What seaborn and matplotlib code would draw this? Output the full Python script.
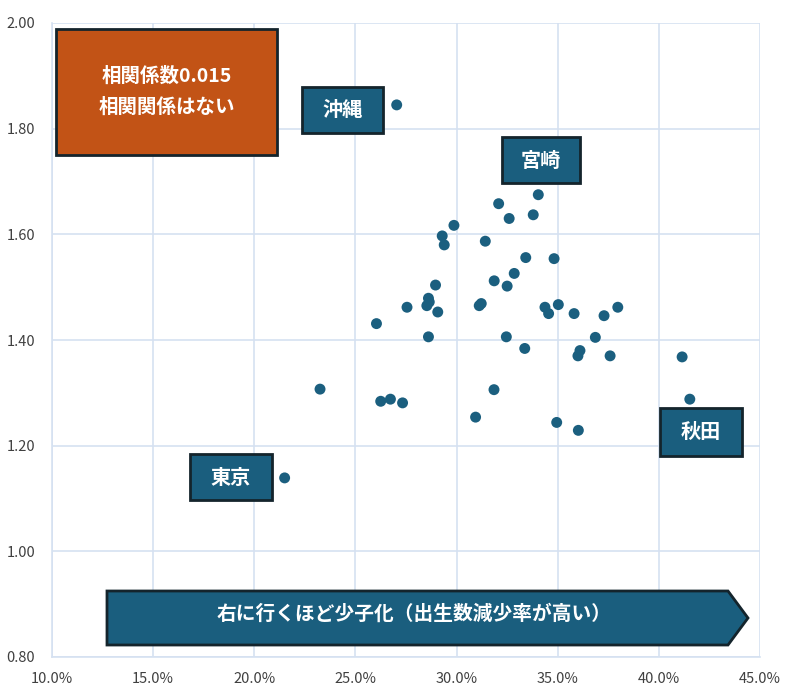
import numpy as np
import pandas as pd
import matplotlib
matplotlib.use("Agg")
import matplotlib.pyplot as plt
import seaborn as sns
from matplotlib.patches import Rectangle, Polygon
from matplotlib.ticker import FuncFormatter

# Birth decline rate (%) vs total fertility rate, by prefecture
birth_decline = [
    34.04, 32.08, 32.60, 33.79, 29.87, 29.29, 29.39, 31.42, 33.42, 34.82,
    32.85, 31.86, 32.50, 28.96, 28.61, 28.53, 28.65, 27.55, 29.07, 26.04,
    31.12, 31.22, 34.37, 34.55, 35.03, 35.81, 37.29, 37.97, 28.61, 32.46,
    33.37, 36.86, 36.10, 36.00, 37.59, 26.25, 26.73, 27.33, 31.85, 30.94,
    34.95, 36.02, 27.04, 21.50, 23.25, 41.53, 41.15,
]
fertility = [
    1.675, 1.658, 1.630, 1.637, 1.617, 1.597, 1.580, 1.587, 1.556, 1.554,
    1.526, 1.512, 1.502, 1.504, 1.479, 1.465, 1.472, 1.462, 1.453, 1.431,
    1.465, 1.469, 1.462, 1.450, 1.467, 1.450, 1.446, 1.462, 1.406, 1.406,
    1.384, 1.405, 1.380, 1.370, 1.370, 1.284, 1.288, 1.281, 1.306, 1.254,
    1.244, 1.229, 1.845, 1.139, 1.307, 1.288, 1.368,
]
x_ticks = [10, 15, 20, 25, 30, 35, 40, 45]
y_ticks = [0.80, 1.00, 1.20, 1.40, 1.60, 1.80, 2.00]
note_lines = ["相関係数0.015", "相関関係はない"]
labels = ["沖縄", "宮崎", "東京", "秋田"]
arrow_text = "右に行くほど少子化（出生数減少率が高い）"

df = pd.DataFrame({"rate": birth_decline, "tfr": fertility})

sns.set_theme(style="white")
plt.rcParams["font.family"] = ["Noto Sans CJK JP", "DejaVu Sans"]

W, H = 792, 700
fig = plt.figure(figsize=(W / 100, H / 100), dpi=100)
ax = fig.add_axes([52 / W, 1 - 657 / H, (760 - 52) / W, (657 - 23) / H])

POINT = "#1b5f7f"
BOX = "#1a5e7e"
ORANGE = "#c25316"
EDGE = "#14242c"
GRID = "#d5e1f1"

sns.scatterplot(data=df, x="rate", y="tfr", ax=ax, s=62, color=POINT,
                edgecolor="none", zorder=3, legend=False)

ax.set_xlim(10, 45)
ax.set_ylim(0.80, 2.00)
ax.set_xticks(x_ticks)
ax.set_yticks(y_ticks)
ax.xaxis.set_major_formatter(FuncFormatter(lambda v, p: f"{v:.1f}%"))
ax.yaxis.set_major_formatter(FuncFormatter(lambda v, p: f"{v:.2f}"))
ax.grid(True, color=GRID, linewidth=1.2, zorder=0)
for side, sp in ax.spines.items():
    sp.set_visible(side in ("left", "bottom"))
    sp.set_color(GRID)
    sp.set_linewidth(1.2)
ax.tick_params(axis="both", length=0, labelsize=10.5, labelcolor="#404040")
ax.tick_params(axis="x", pad=11)
ax.tick_params(axis="y", pad=12)
ax.set_xlabel("")
ax.set_ylabel("")


def fx(px):
    return px / W


def fy(py):
    return 1 - py / H


def box(x0, y0, x1, y1, face, lines, size):
    r = Rectangle((fx(x0), fy(y1)), fx(x1) - fx(x0), fy(y0) - fy(y1),
                  transform=fig.transFigure, facecolor=face, edgecolor=EDGE,
                  linewidth=2, zorder=5)
    fig.add_artist(r)
    cx = (x0 + x1) / 2
    cy = (y0 + y1) / 2
    n = len(lines)
    gap = 31
    for i, t in enumerate(lines):
        yy = cy + (i - (n - 1) / 2) * gap
        fig.text(fx(cx), fy(yy), t, color="white", fontsize=size,
                 fontweight="bold", ha="center", va="center", zorder=6)


box(56, 29, 277, 155, ORANGE, note_lines, 14)
box(302, 87, 383, 133, BOX, [labels[0]], 14.5)
box(502, 137, 580, 183, BOX, [labels[1]], 14.5)
box(190, 454, 272, 500, BOX, [labels[2]], 14.5)
box(660, 408, 742, 456, BOX, [labels[3]], 14.5)

arrow_pts = [(107, 591), (728, 591), (748, 618), (728, 645), (107, 645)]
poly = Polygon([(fx(a), fy(b)) for a, b in arrow_pts], closed=True,
               transform=fig.transFigure, facecolor=BOX, edgecolor=EDGE,
               linewidth=2, zorder=5)
fig.add_artist(poly)
fig.text(fx(414), fy(614), arrow_text, color="white", fontsize=14.2,
         fontweight="bold", ha="center", va="center", zorder=6)

fig.savefig("out.png", dpi=100, facecolor="white")
